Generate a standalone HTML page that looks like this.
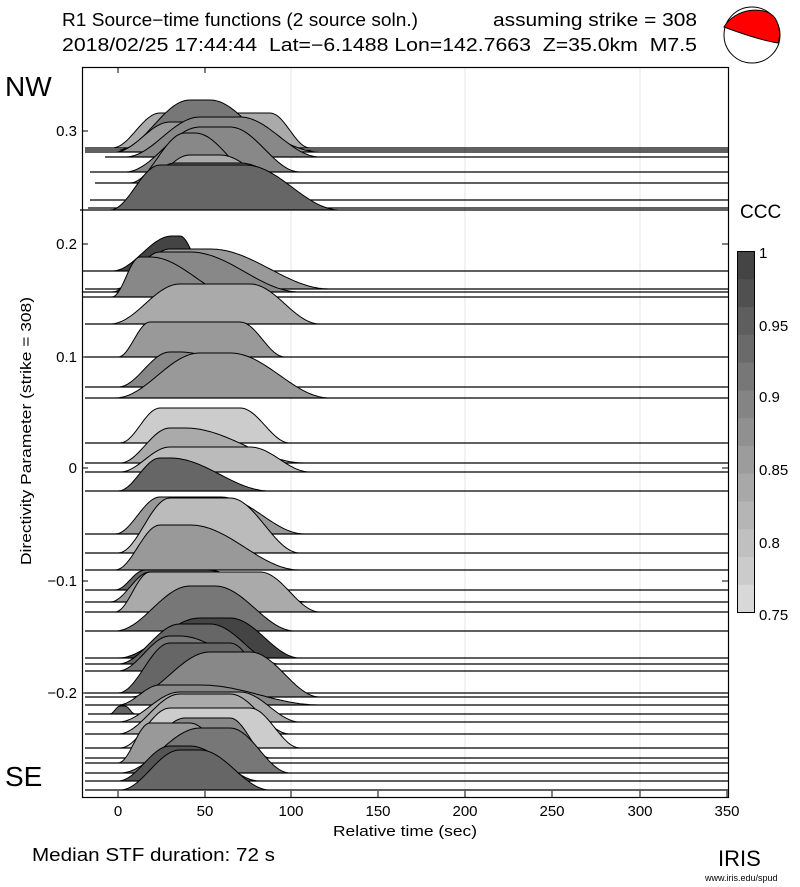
<!DOCTYPE html>
<html><head><meta charset="utf-8"><style>
body{margin:0;background:#fff;width:800px;height:887px;overflow:hidden}
svg{display:block}
text{font-family:"Liberation Sans",sans-serif;fill:#000}
</style></head><body>
<svg id="s" width="800" height="887" xmlns="http://www.w3.org/2000/svg">
<rect x="0" y="0" width="800" height="887" fill="#fff"/>
<text x="62" y="26" font-size="18" textLength="356" lengthAdjust="spacingAndGlyphs">R1 Source−time functions (2 source soln.)</text>
<text x="493" y="26" font-size="18" textLength="204" lengthAdjust="spacingAndGlyphs">assuming strike = 308</text>
<text x="62" y="51" font-size="18" textLength="635" lengthAdjust="spacingAndGlyphs" xml:space="preserve">2018/02/25 17:44:44  Lat=−6.1488 Lon=142.7663  Z=35.0km  M7.5</text>
<circle cx="752" cy="35" r="28" fill="#fff" stroke="#000" stroke-width="1"/>
<path d="M724,27 C735,8 765,5 775,18 C781,28 780,38 778,43 C760,40 740,33 724,27 Z" fill="#f00" stroke="#000" stroke-width="1"/>
<g stroke="#e4e4e4" stroke-width="1">
<line x1="291" y1="67" x2="291" y2="797"/><line x1="465" y1="67" x2="465" y2="797"/><line x1="640" y1="67" x2="640" y2="797"/>
</g>
<g id="traces"></g>
<rect x="82.5" y="67.5" width="646" height="730" fill="none" stroke="#000" stroke-width="1.2"/>
<g stroke="#000" stroke-width="1">
<line x1="118" y1="797" x2="118" y2="791"/><line x1="205" y1="797" x2="205" y2="791"/><line x1="291" y1="797" x2="291" y2="791"/><line x1="378" y1="797" x2="378" y2="791"/><line x1="465" y1="797" x2="465" y2="791"/><line x1="552" y1="797" x2="552" y2="791"/><line x1="640" y1="797" x2="640" y2="791"/><line x1="727" y1="797" x2="727" y2="791"/>
<line x1="118" y1="67" x2="118" y2="73"/><line x1="205" y1="67" x2="205" y2="73"/>
<line x1="82" y1="131" x2="88" y2="131"/><line x1="82" y1="244" x2="88" y2="244"/><line x1="82" y1="357" x2="88" y2="357"/><line x1="82" y1="468" x2="88" y2="468"/><line x1="82" y1="581" x2="88" y2="581"/><line x1="82" y1="693" x2="88" y2="693"/>
<line x1="728" y1="244" x2="722" y2="244"/><line x1="728" y1="357" x2="722" y2="357"/><line x1="728" y1="468" x2="722" y2="468"/><line x1="728" y1="581" x2="722" y2="581"/>
</g>
<g font-size="15" text-anchor="end">
<text x="77" y="136">0.3</text><text x="77" y="249">0.2</text><text x="77" y="362">0.1</text><text x="77" y="473">0</text><text x="77" y="586">−0.1</text><text x="77" y="698">−0.2</text>
</g>
<g font-size="15" text-anchor="middle">
<text x="118" y="816">0</text><text x="205" y="816">50</text><text x="291" y="816">100</text><text x="378" y="816">150</text><text x="465" y="816">200</text><text x="552" y="816">250</text><text x="640" y="816">300</text><text x="727" y="816">350</text>
</g>
<text x="333" y="836" font-size="15" textLength="144" lengthAdjust="spacingAndGlyphs">Relative time (sec)</text>
<text transform="translate(31,431) rotate(-90)" font-size="15" text-anchor="middle" textLength="268" lengthAdjust="spacingAndGlyphs">Directivity Parameter (strike = 308)</text>
<text x="5" y="96" font-size="28">NW</text>
<text x="5" y="786" font-size="28">SE</text>
<text x="32" y="861" font-size="18" textLength="243" lengthAdjust="spacingAndGlyphs">Median STF duration: 72 s</text>
<text x="740" y="218" font-size="19">CCC</text>
<g id="cb"></g>
<rect x="737.5" y="251.5" width="17" height="361" fill="none" stroke="#000" stroke-width="1"/>
<g font-size="15"><text x="759" y="258">1</text><text x="759" y="331">0.95</text><text x="759" y="402">0.9</text><text x="759" y="475">0.85</text><text x="759" y="548">0.8</text><text x="759" y="620">0.75</text></g>
<text x="718" y="866" font-size="22" font-family="Liberation Serif">IRIS</text>
<text x="705" y="881" font-size="9">www.iris.edu/spud</text>
</svg>
<script>
var T=[
[148,85,112,160,270,310,35,'#aaa'],[150,85,118,190,210,290,50,'#777'],[152,85,115,170,230,320,30,'#999'],
[157,105,125,200,240,320,40,'#888'],[172,90,125,200,230,300,45,'#888'],[183,95,130,185,195,265,50,'#888'],
[200,90,128,190,220,300,45,'#aaa'],[208,88,115,175,240,330,45,'#666'],[210,80,110,160,245,340,45,'#666'],
[271,82,112,172,180,205,35,'#444'],[289,85,115,170,210,330,40,'#999'],[292,82,112,160,190,300,40,'#888'],
[297,82,112,140,150,240,40,'#888'],[324,85,110,180,250,320,40,'#aaa'],[357,85,118,150,240,285,35,'#999'],
[387,85,118,170,180,290,35,'#888'],[398,85,115,200,230,330,45,'#999'],[443,85,120,160,240,290,35,'#ccc'],
[463,85,120,170,185,305,35,'#aaa'],[472,85,120,170,250,310,25,'#bbb'],[491,85,118,160,170,270,33,'#666'],
[534,85,115,160,220,305,37,'#999'],[553,85,118,170,230,300,55,'#bbb'],[570,85,115,160,190,300,45,'#999'],
[590,85,115,145,205,280,20,'#666'],[602,85,110,150,200,310,30,'#999'],[612,85,115,150,260,320,40,'#aaa'],
[631,85,115,190,215,295,45,'#777'],[658,85,118,200,230,300,40,'#444'],[664,85,118,180,210,280,40,'#666'],
[671,85,118,170,180,270,35,'#777'],[693,85,118,170,230,280,50,'#666'],[697,85,130,210,250,320,45,'#888'],
[705,85,118,160,200,320,20,'#888'],[714,88,110,120,125,135,8,'#666'],[722,85,118,180,240,300,30,'#aaa'],
[734,85,118,180,230,290,40,'#aaa'],[748,85,120,170,250,300,40,'#ccc'],[758,85,130,185,230,270,40,'#888'],
[763,85,118,150,190,240,40,'#999'],[773,85,120,200,230,290,45,'#777'],[781,85,118,170,190,260,35,'#555'],
[790,85,120,180,200,270,40,'#666']];
var g=document.getElementById('traces'),h='';
T.forEach(function(t){var y=t[0],x0=t[1],xs=t[2],p1=t[3],p2=t[4],xe=t[5],a=t[6],c=t[7];
var d='M'+xs+','+y;
for(var x=xs;x<=xe;x+=2){var v;
if(x<p1)v=0.5-0.5*Math.cos(Math.PI*(x-xs)/(p1-xs));else if(x<=p2)v=1;else v=0.5+0.5*Math.cos(Math.PI*(x-p2)/(xe-p2));
d+=' L'+x+','+(y-a*v).toFixed(1);}
d+=' L'+xe+','+y+' Z';
h+='<path d="'+d+'" fill="'+c+'" stroke="#000" stroke-width="1"/>';
h+='<line x1="'+x0+'" y1="'+y+'" x2="728" y2="'+y+'" stroke="#000" stroke-width="1.2"/>';});
g.innerHTML=h;
var cb=document.getElementById('cb'),s='',cols=['#d8d8d8','#cbcbcb','#c0c0c0','#b5b5b5','#a8a8a8','#9c9c9c','#909090','#848484','#777','#6a6a6a','#5e5e5e','#505050','#444'];
for(var i=0;i<13;i++){var y0=612-(i+1)*361/13;s+='<rect x="737" y="'+y0.toFixed(1)+'" width="18" height="'+(361/13+0.5).toFixed(1)+'" fill="'+cols[i]+'"/>';}
cb.innerHTML=s;
</script>
</body></html>
